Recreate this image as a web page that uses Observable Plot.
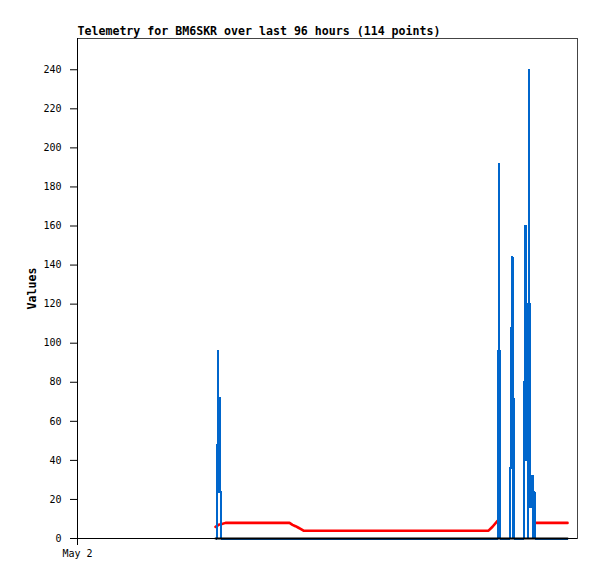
<!DOCTYPE html>
<html>
<head>
<meta charset="utf-8">
<script src="https://cdn.jsdelivr.net/npm/d3@7"></script>
<script src="https://cdn.jsdelivr.net/npm/@observablehq/plot@0.6"></script>
<style>
  html, body { margin: 0; padding: 0; background: #fff; }
</style>
</head>
<body>
<div id="chart"></div>
<script>
// ---- Data (hours since 2024-05-02 00:00 UTC) ----
const titleText = "Telemetry for BM6SKR over last 96 hours (114 points)";
const yLabel = "Values";

// shared timeline for the red series and the black (zero) series
const lineHours = [37.65, 37.95, 38.47, 39.18, 40.38, 44.47, 48.56, 52.65, 57.84, 58.65, 59.47, 60.29, 60.97, 61.66,
  66.29, 74.48, 82.66, 90.85, 99.03, 107.21, 112.13, 113.22, 114.58,
  115.43, 116.76, 119.03, 120.31, 124.92,
  125.22, 127.68, 130.40, 133.68];
const redValues = [6, 6.3, 7, 7.3, 8, 8, 8, 8, 8, 7, 6.3, 5.5, 4.8, 4,
  4, 4, 4, 4, 4, 4, 4, 6, 9,
  null, null, null, null, null,
  8, 8, 8, 8];
const blackValues = [0, 0, 0, 0, 0, 0, 0, 0, 0, 0, 0, 0, 0, 0,
  0, 0, 0, 0, 0, 0, 0, 0, 0,
  0, 0, 0, 0, 0,
  0, 0, 0, 0];

// blue series (each value holds until the next reading)
const blueHours = [37.65,
  37.98, 38.25, 38.41, 38.63, 38.79, 39.12,
  114.77, 115.04, 115.07, 115.32,
  118.02, 118.29, 118.54, 118.70, 118.78, 118.97,
  121.84, 122.11, 122.30, 122.49, 122.76, 122.85, 123.23, 123.28, 123.47, 123.97, 124.24, 124.35, 124.67,
  133.68];
const blueValues = [0,
  48, 96, 24, 72, 24, 0,
  96, 192, 96, 0,
  36, 108, 144, 0, 72, 0,
  80, 160, 40, 120, 0, 120, 240, 120, 16, 32, 0, 24, 0,
  0];

const yTicks = [0, 20, 40, 60, 80, 100, 120, 140, 160, 180, 200, 220, 240];
const xTickHours = [0];
const xTickLabels = ["May 2"];
const xDomainHours = [0, 136.4];
const yDomain = [0, 256];

// ---- Build ----
const BASE = Date.UTC(2024, 4, 2);
const toDate = h => new Date(BASE + h * 3600000);

const lineData = lineHours.map((h, i) => ({t: toDate(h), red: redValues[i], black: blackValues[i]}));
const blueData = blueHours.map((h, i) => ({t: toDate(h), v: blueValues[i]}));
const xTicks = xTickHours.map(toDate);
const xLabelMap = new Map(xTicks.map((d, i) => [+d, xTickLabels[i]]));

const chart = Plot.plot({
  width: 597,
  height: 579,
  marginLeft: 77,
  marginRight: 20,
  marginTop: 38,
  marginBottom: 41,
  style: {fontFamily: "'DejaVu Sans Mono', monospace", fontSize: "10px", background: "white", color: "black"},
  x: {type: "utc", domain: xDomainHours.map(toDate)},
  y: {domain: yDomain},
  marks: [
    Plot.frame({stroke: "#444"}),
    Plot.line(lineData, {x: "t", y: "red", stroke: "#ff0000", strokeWidth: 2.6}),
    Plot.line(blueData, {x: "t", y: "v", stroke: "#0066cc", strokeWidth: 2, curve: "step-after", shapeRendering: "crispEdges"}),
    Plot.line(lineData, {x: "t", y: "black", stroke: "#000", strokeWidth: 2.2}),
    Plot.ruleY([0], {stroke: "#000", strokeWidth: 1}),
    Plot.ruleX([xTicks[0]], {stroke: "#000", strokeWidth: 1}),
    Plot.axisY({ticks: yTicks, tickSize: 7, tickPadding: 9, label: null, fontSize: 10, stroke: "#000"}),
    Plot.axisX({ticks: xTicks, tickFormat: d => xLabelMap.get(+d), tickSize: 7, tickPadding: 4, label: null, fontSize: 10, stroke: "#000"}),
    Plot.text([titleText], {frameAnchor: "top-left", textAnchor: "start", lineAnchor: "middle", dy: -7, fontWeight: "bold", fontSize: 11.6}),
    Plot.text([yLabel], {frameAnchor: "left", textAnchor: "middle", lineAnchor: "middle", dx: -45, rotate: -90, fontWeight: "bold", fontSize: 11.6})
  ]
});
document.getElementById("chart").appendChild(chart);
</script>
</body>
</html>
